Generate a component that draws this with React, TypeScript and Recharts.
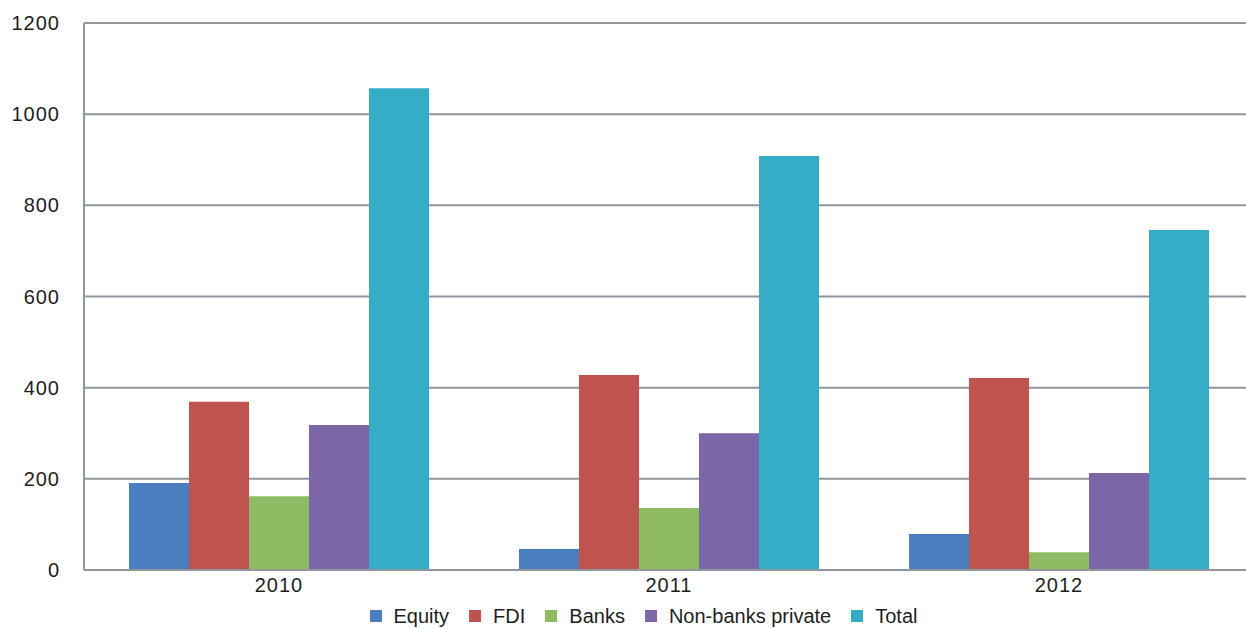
import React from 'react';
import { BarChart, Bar, XAxis, YAxis, CartesianGrid, Legend } from 'recharts';

const years = ['2010', '2011', '2012'];
const equity = [191, 46, 79];
const fdi = [369, 428, 421];
const banks = [162, 136, 39];
const nonBanks = [318, 300, 213];
const total = [1057, 908, 746];
const yTicks = [0, 200, 400, 600, 800, 1000, 1200];

const seriesNames = ['Equity', 'FDI', 'Banks', 'Non-banks private', 'Total'];
const seriesColors = ['#4a7ebf', '#bf534f', '#8fbb64', '#7b66a8', '#36adc7'];

const data = years.map((year, i) => ({
  year,
  Equity: equity[i],
  FDI: fdi[i],
  Banks: banks[i],
  'Non-banks private': nonBanks[i],
  Total: total[i],
}));

const font = '"Liberation Sans", Arial, sans-serif';
const gridColor = '#8d979c';
const textColor = '#1e1e1e';

const LegendRow = () => (
  <div style={{ display: 'flex', justifyContent: 'center', paddingLeft: 53, paddingTop: 8, height: 20, fontFamily: font, fontSize: 20, lineHeight: '20px', color: textColor }}>
    {seriesNames.map((name, i) => (
      <div key={name} style={{ display: 'flex', alignItems: 'center', marginRight: 20 }}>
        <span style={{ display: 'inline-block', width: 12, height: 12, background: seriesColors[i], marginRight: 12 }} />
        <span>{name}</span>
      </div>
    ))}
  </div>
);

const App: React.FC = () => {
  return (
    <div style={{ position: 'absolute', left: 0, top: 0, width: 1246, height: 628, overflow: 'hidden', background: '#fff', fontFamily: font }}>
      <BarChart
        width={1254}
        height={628}
        data={data}
        margin={{ top: 23, right: 0, left: 0, bottom: 0 }}
        barCategoryGap={45}
        barGap={0}
      >
        <CartesianGrid vertical={false} stroke={gridColor} strokeWidth={2} />
        <XAxis
          dataKey="year"
          height={28}
          axisLine={{ stroke: gridColor, strokeWidth: 2 }}
          tickLine={false}
          tickSize={0}
          tickMargin={8}
          tick={{ fontSize: 20, fill: textColor, fontFamily: font, letterSpacing: 1 }}
        />
        <YAxis
          width={84}
          domain={[0, 1200]}
          ticks={yTicks}
          axisLine={{ stroke: gridColor, strokeWidth: 2 }}
          tickLine={false}
          tickSize={0}
          tickMargin={24}
          tick={{ fontSize: 20, fill: textColor, fontFamily: font, letterSpacing: 1 }}
        />
        <Legend verticalAlign="bottom" content={() => <LegendRow />} wrapperStyle={{ height: 30 }} />
        {seriesNames.map((name, i) => (
          <Bar key={name} dataKey={name} fill={seriesColors[i]} isAnimationActive={false} />
        ))}
      </BarChart>
    </div>
  );
};

export default App;
